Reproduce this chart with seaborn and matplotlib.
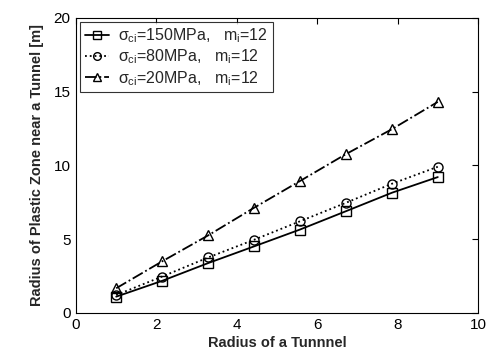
import matplotlib
matplotlib.use("Agg")
import matplotlib.pyplot as plt
import seaborn as sns
import pandas as pd

sns.set_theme(style="white")
plt.rcParams['font.family'] = ['Liberation Sans', 'DejaVu Sans']
plt.rcParams['mathtext.fontset'] = 'custom'
plt.rcParams['mathtext.rm'] = 'Liberation Sans'
plt.rcParams['mathtext.it'] = 'Liberation Sans'

tunnel_radius = [1.0, 2.14, 3.29, 4.43, 5.57, 6.71, 7.86, 9.0]
plastic_150 = [1.09, 2.16, 3.37, 4.50, 5.64, 6.88, 8.14, 9.20]
plastic_80 = [1.20, 2.45, 3.75, 4.95, 6.20, 7.45, 8.75, 9.90]
plastic_20 = [1.66, 3.48, 5.25, 7.12, 8.93, 10.75, 12.45, 14.30]
labels = [r'$\sigma_{ci}$=150MPa,   m$_i$=12',
          r'$\sigma_{ci}$=80MPa,   m$_i$=12',
          r'$\sigma_{ci}$=20MPa,   m$_i$=12']
x_ticks = [0, 2, 4, 6, 8, 10]
y_ticks = [0, 5, 10, 15, 20]

fig = plt.figure(figsize=(4.92, 3.57), dpi=100)
ax = fig.add_axes([0.1545, 0.124, 0.817, 0.826])

series = [plastic_150, plastic_80, plastic_20]
styles = [('-', 's'), (':', 'o'), ('-.', '^')]
for vals, lab, (ls, mk) in zip(series, labels, styles):
    df = pd.DataFrame({'x': tunnel_radius, 'y': vals})
    sns.lineplot(data=df, x='x', y='y', ax=ax, color='black', linestyle=ls,
                 linewidth=1.3, marker=mk, markersize=6.5, markerfacecolor='none',
                 markeredgecolor='black', markeredgewidth=1.0, label=lab)

ax.set_xlim(0, 10)
ax.set_ylim(0, 20)
ax.set_xticks(x_ticks)
ax.set_yticks(y_ticks)
ax.tick_params(direction='in', top=True, right=True, length=4, width=0.8,
               labelsize=11, colors='black', pad=4)
for s in ax.spines.values():
    s.set_color('black')
    s.set_linewidth(0.8)
ax.set_xlabel('Radius of a Tunnnel', fontsize=10.5, fontweight='bold', labelpad=3)
ax.set_ylabel('Radius of Plastic Zone near a Tunnel [m]', fontsize=10.5,
              fontweight='bold', labelpad=7)
leg = ax.legend(loc='upper left', fontsize=11.5, frameon=True, fancybox=False,
                edgecolor='black', handlelength=1.5, borderaxespad=0.25,
                labelspacing=0.15, handletextpad=0.6, borderpad=0.3,
                markerscale=0.85)
leg.get_frame().set_linewidth(0.8)

fig.savefig('out.png', dpi=100)
